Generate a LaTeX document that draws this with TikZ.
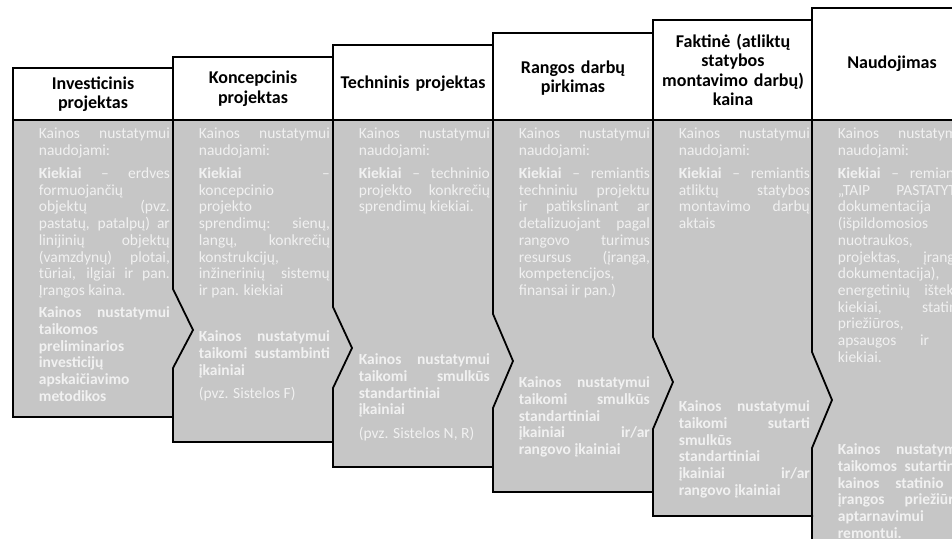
\documentclass[tikz,border=0pt]{standalone}
\usepackage{fontspec}
\setmainfont{Carlito}
\usepackage{tikz}
\usetikzlibrary{positioning}
\definecolor{stagefill}{RGB}{198,198,198}
\definecolor{stagetext}{RGB}{241,241,241}
\newcommand\bodyfont{\fontsize{15.5}{16.7}\selectfont\setlength\parskip{6.6pt}\setlength\parindent{0pt}}
\newcommand\headfont{\fontsize{18}{19.5}\selectfont\bfseries}

\begin{document}
\begin{tikzpicture}[x=1pt,y=-1pt,line width=1.8pt,
  head/.style={align=center,text width=155pt,inner sep=0pt,font=\headfont},
  body/.style={anchor=north west,align=justify,text width=131pt,inner sep=0pt,text=stagetext,font=\bodyfont},
  price/.style={body,font=\bodyfont\bfseries}]
\useasboundingbox (0,0) rectangle (952,538);
\fill[stagefill] (13,68)--(173,68)--(173,57)--(333,57)--(333,45)--(493,45)--(493,33)--(653,33)--(653,20)--(812,20)--(812,8)--(972,8)
  --(972,545)--(812,545)--(812,516)--(653,516)--(653,492)--(493,492)--(493,467)--(333,467)--(333,442)--(173,442)--(173,417)--(13,417)--cycle;
\foreach \l/\t/\b/\cs/\ct/\ce/\dx in {13/68/417/250/250/250/0,173/57/442/289/330/368/20,333/45/467/307/348/388/19,
  493/33/492/314/361/408/20,653/20/516/337/382/429/20,812/8/545/352/400/448/20}{
  \draw[fill=white] (\l,\t) rectangle (\l+160,120);
  \draw (\l,120)--(\l,\cs)--(\l+\dx,\ct)--(\l,\ce)--(\l,\b)--(\l+160,\b);
}
\node[head] (head1) at (93,94) {Investicinis\\projektas};
\node[head] (head2) at (253,88.5) {Koncepcinis\\projektas};
\node[head] (head3) at (413,84) {Techninis projektas};
\node[head] (head4) at (573,78) {Rangos darbų\\pirkimas};
\node[head] (head5) at (733,70) {Faktinė (atliktų\\statybos\\montavimo darbų)\\kaina};
\node[head] (head6) at (892,64) {Naudojimas};
\node[body] (qty1) at (38,127) {Kainos nustatymui\linebreak naudojami:\par
  \textbf{Kiekiai} – erdves\linebreak formuojančių\\ objektų (pvz.\linebreak pastatų, patalpų) ar\linebreak linijinių objektų\linebreak
  (vamzdynų) plotai,\linebreak tūriai, ilgiai ir pan.\linebreak Įrangos kaina.};
\node[price] (price1) at (38,306) {Kainos nustatymui\linebreak taikomos\\ preliminarios\\ investicijų\\ apskaičiavimo\\ metodikos};
\node[body] (qty2) at (198,127) {Kainos nustatymui\linebreak naudojami:\par
  \textbf{Kiekiai} –\linebreak koncepcinio\\ projekto\\ sprendimų: sienų,\linebreak langų, konkrečių\linebreak konstrukcijų,\\
  inžinerinių sistemų\linebreak ir pan. kiekiai};
\node[body] (price2) at (198,330) {\textbf{Kainos nustatymui\linebreak taikomi sustambinti\linebreak įkainiai}\par (pvz. Sistelos F)};
\node[body] (qty3) at (358,127) {Kainos nustatymui\linebreak naudojami:\par
  \textbf{Kiekiai} – techninio\linebreak projekto konkrečių\linebreak sprendimų kiekiai.};
\node[body] (price3) at (358,353) {\textbf{Kainos nustatymui\linebreak taikomi smulkūs\linebreak standartiniai\\ įkainiai}\par (pvz. Sistelos N, R)};
\node[body] (qty4) at (518,127) {Kainos nustatymui\linebreak naudojami:\par
  \textbf{Kiekiai} – remiantis\linebreak techniniu projektu\linebreak ir patikslinant ar\linebreak detalizuojant pagal\linebreak
  rangovo turimus\linebreak resursus (įranga,\linebreak kompetencijos,\\ finansai ir pan.)};
\node[price] (price4) at (518,376) {Kainos nustatymui\linebreak taikomi smulkūs\linebreak standartiniai\\ įkainiai ir/ar\linebreak rangovo įkainiai};
\node[body] (qty5) at (678,127) {Kainos nustatymui\linebreak naudojami:\par
  \textbf{Kiekiai} – remiantis\linebreak atliktų statybos\linebreak montavimo darbų\linebreak aktais};
\node[price] (price5) at (678,400) {Kainos nustatymui\linebreak taikomi sutarti\linebreak smulkūs\\ standartiniai\\ įkainiai ir/ar\linebreak rangovo įkainiai};
\node[body] (qty6) at (837,127) {Kainos nustatymui\linebreak naudojami:\par
  \textbf{Kiekiai} – remiantis\linebreak „TAIP PASTATYTA“\linebreak dokumentacija\\ (išpildomosios\\ nuotraukos,\\
  projektas, įrangos\linebreak dokumentacija),\\ energetinių išteklių\linebreak kiekiai, statinio\linebreak priežiūros,\\
  apsaugos ir kt.\linebreak kiekiai.};
\node[price] (price6) at (837,443) {Kainos nustatymui\linebreak taikomos sutartinės\linebreak kainos statinio ir\linebreak įrangos priežiūrai,\linebreak aptarnavimui\\ remontui.};
\end{tikzpicture}
\end{document}
